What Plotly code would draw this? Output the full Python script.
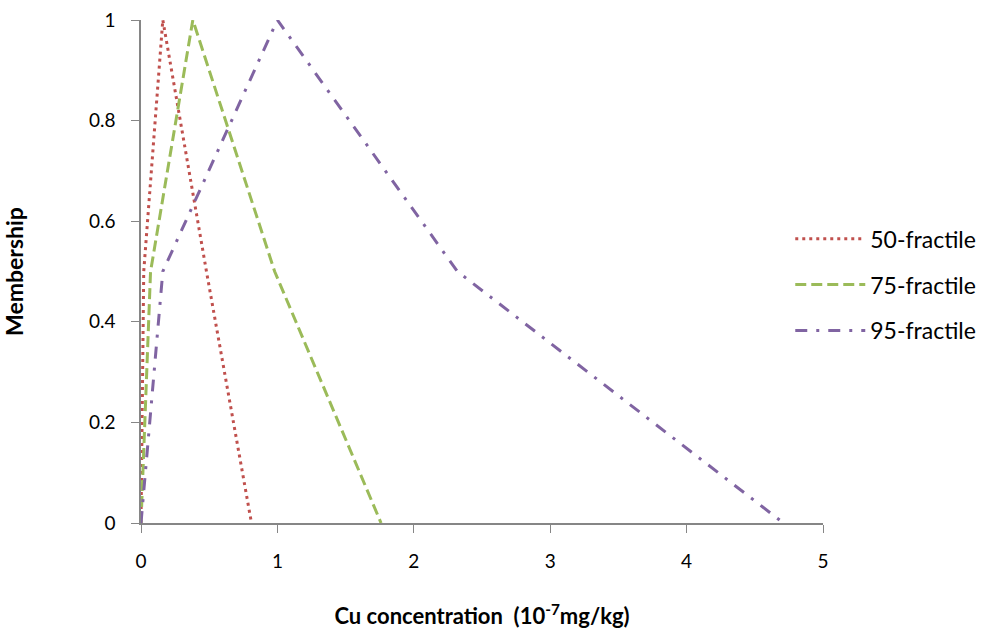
import plotly.graph_objects as go

x50 = [0, 0.02, 0.16, 0.48, 0.81]
y50 = [0, 0.5, 1, 0.5, 0]
x75 = [0, 0.07, 0.38, 0.98, 1.76]
y75 = [0, 0.5, 1, 0.5, 0]
x95 = [0, 0.16, 1.0, 2.32, 4.71]
y95 = [0, 0.5, 1, 0.5, 0]
names = ["50-fractile", "75-fractile", "95-fractile"]
colors = ["#C0504D", "#9BBB59", "#8064A2"]
dashes = ["3px,4px", "11px,5px", "12px,9px,3px,9px"]

FONT = "Lato, Open Sans, sans-serif"
fig = go.Figure()
for i, (xs, ys) in enumerate([(x50, y50), (x75, y75), (x95, y95)]):
    fig.add_trace(go.Scatter(x=xs, y=ys, mode="lines", name=names[i],
                             legendgroup=names[i],
                             line=dict(color=colors[i], width=3, dash=dashes[i])))

fig.update_layout(
    width=986, height=631,
    margin=dict(l=141, r=163, t=20, b=108, autoexpand=False),
    plot_bgcolor="white", paper_bgcolor="white",
    font=dict(family=FONT, size=19, color="#000"),
    legend=dict(x=0.952, y=0.608, xanchor="left", yanchor="top",
                font=dict(size=23), tracegroupgap=13, itemwidth=70,
                bgcolor="rgba(0,0,0,0)"),
    xaxis=dict(range=[0, 5], tickvals=[0, 1, 2, 3, 4, 5], showgrid=False, zeroline=False,
               showline=True, linecolor="#868686", linewidth=1.5, automargin=False,
               ticks="outside", ticklen=8, tickcolor="#868686",
               tickfont=dict(size=19), ticklabelstandoff=12,
               title=dict(text="<b>Cu concentration  (10<sup>-7</sup>mg/kg)</b>",
                          font=dict(size=22), standoff=38)),
    yaxis=dict(range=[0, 1], tickvals=[0, 0.2, 0.4, 0.6, 0.8, 1],
               ticktext=["0", "0.2", "0.4", "0.6", "0.8", "1"], showgrid=False, zeroline=False,
               showline=True, linecolor="#868686", linewidth=1.5, automargin=False,
               ticks="outside", ticklen=8, tickcolor="#868686",
               tickfont=dict(size=19), ticklabelstandoff=12,
               title=dict(text="<b>Membership</b>", font=dict(size=23), standoff=62)),
)
fig.write_html("out.html")
